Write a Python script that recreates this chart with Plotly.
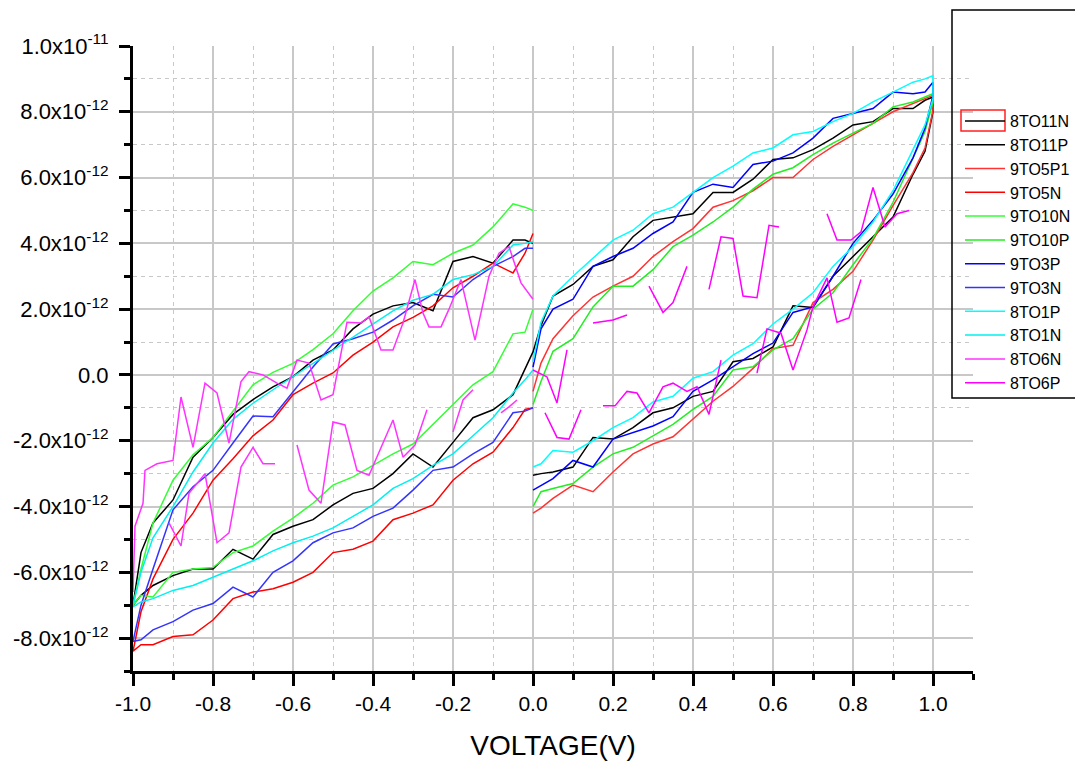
import plotly.graph_objects as go

# ---------------- data (current in units of 1e-12 A) ----------------
V_NEG = [-1.0, -0.98, -0.95, -0.90, -0.85, -0.80, -0.75, -0.70, -0.65, -0.60, -0.55, -0.50,
         -0.45, -0.40, -0.35, -0.30, -0.25, -0.20, -0.15, -0.10, -0.05, -0.02, 0.0]
V_POS = [0.0, 0.02, 0.05, 0.10, 0.15, 0.20, 0.25, 0.30, 0.35, 0.40, 0.45, 0.50,
         0.55, 0.60, 0.65, 0.70, 0.75, 0.80, 0.85, 0.90, 0.95, 0.98, 1.0]

# 8TO11 (black)
N8_11_LOW = [-7.0, -6.7, -6.4, -6.1, -5.9, -5.9, -5.3, -5.6, -4.85, -4.6, -4.4, -3.95, -3.6, -3.45, -3.0, -2.4, -2.8, -2.05, -1.3, -1.06, -0.6, 0.2, 0.7]
N8_11_UP = [-7.0, -5.4, -4.5, -3.8, -2.5, -1.9, -1.2, -0.75, -0.36, -0.05, 0.45, 0.76, 1.4, 1.85, 2.1, 2.2, 1.95, 3.45, 3.6, 3.4, 4.1, 4.1, 4.0]
P8_11_LOW = [-3.05, -3.0, -2.95, -2.8, -1.9, -1.95, -1.6, -1.15, -1.0, -0.65, -0.5, 0.4, 0.5, 0.85, 2.1, 2.05, 3.0, 3.6, 4.2, 4.8, 6.1, 6.8, 8.0]
P8_11_UP = [0.7, 1.5, 2.4, 2.75, 3.3, 3.5, 4.2, 4.7, 4.8, 4.9, 5.55, 5.55, 5.95, 6.55, 6.6, 6.85, 7.2, 7.6, 7.7, 8.1, 8.1, 8.35, 8.45]

# 9TO5 (red)
P9_5_LOW = [-4.2, -4.05, -3.75, -3.35, -3.55, -2.95, -2.4, -2.1, -1.88, -1.35, -0.8, -0.35, 0.2, 0.8, 0.9, 2.2, 2.6, 3.15, 4.1, 5.15, 6.15, 6.9, 8.05]
P9_5_UP = [-0.5, 0.36, 1.1, 1.8, 2.37, 2.7, 3.0, 3.6, 4.05, 4.45, 5.1, 5.3, 5.6, 6.0, 6.0, 6.55, 6.95, 7.3, 7.65, 8.0, 8.25, 8.4, 8.5]
N9_5_LOW = [-8.4, -8.2, -8.2, -7.95, -7.9, -7.45, -6.8, -6.6, -6.5, -6.3, -6.0, -5.4, -5.3, -5.05, -4.4, -4.2, -3.95, -3.2, -2.7, -2.35, -1.6, -1.05, -1.0]
N9_5_UP = [-8.4, -7.2, -6.2, -5.0, -4.2, -3.2, -2.55, -1.85, -1.37, -0.6, -0.25, 0.06, 0.6, 1.0, 1.46, 1.75, 2.1, 2.65, 3.0, 3.4, 3.1, 3.7, 4.3]

# 9TO10 (green)
N9_10_LOW = [-7.0, -6.7, -6.75, -6.0, -5.9, -5.85, -5.4, -5.2, -4.75, -4.35, -3.9, -3.35, -3.1, -2.75, -2.4, -2.1, -1.5, -0.9, -0.3, 0.1, 1.25, 1.3, 2.0]
N9_10_UP = [-7.0, -5.9, -4.5, -3.2, -2.43, -1.9, -1.1, -0.3, 0.08, 0.35, 0.77, 1.25, 1.95, 2.55, 2.95, 3.45, 3.35, 3.7, 3.95, 4.5, 5.2, 5.1, 5.0]
P9_10_LOW = [-4.0, -3.55, -3.45, -3.3, -2.8, -2.4, -2.2, -1.85, -1.5, -1.05, -0.65, 0.15, 0.25, 0.76, 1.1, 2.0, 2.5, 3.35, 4.15, 5.25, 6.6, 7.4, 8.3]
P9_10_UP = [-0.9, -0.2, 0.72, 1.1, 2.07, 2.7, 2.7, 3.2, 3.9, 4.25, 4.65, 5.1, 5.65, 6.1, 6.3, 6.7, 7.05, 7.35, 7.65, 8.15, 8.3, 8.45, 8.55]

# 9TO3 (blue)
P9_3_LOW = [-3.5, -3.35, -3.15, -2.6, -2.8, -1.95, -1.75, -1.55, -1.27, -0.5, -0.15, 0.24, 0.65, 0.97, 1.9, 2.07, 3.0, 4.0, 4.7, 5.5, 6.6, 7.5, 8.5]
P9_3_UP = [0.24, 1.4, 2.0, 2.3, 3.3, 3.6, 3.85, 4.3, 4.65, 5.55, 5.8, 5.7, 6.4, 6.5, 6.75, 7.2, 7.8, 7.95, 8.1, 8.6, 8.55, 8.6, 8.9]
N9_3_LOW = [-8.1, -8.05, -7.75, -7.5, -7.15, -6.95, -6.45, -6.75, -6.0, -5.65, -5.1, -4.8, -4.65, -4.3, -4.05, -3.5, -2.9, -2.8, -2.4, -2.05, -1.15, -1.1, -1.0]
N9_3_UP = [-8.1, -7.0, -5.9, -4.1, -3.4, -2.9, -2.07, -1.25, -1.27, -0.5, 0.24, 0.94, 1.1, 1.3, 1.67, 2.1, 2.45, 2.37, 2.9, 3.3, 3.6, 3.85, 3.85]

# 8TO1 (cyan)
P8_1_LOW = [-2.8, -2.7, -2.3, -2.35, -2.0, -1.6, -1.3, -0.82, -0.65, -0.1, 0.1, 0.6, 0.95, 1.55, 2.0, 2.5, 3.3, 3.9, 4.65, 5.6, 6.85, 7.6, 8.4]
P8_1_UP = [0.4, 1.6, 2.4, 3.0, 3.55, 4.1, 4.4, 4.9, 5.1, 5.55, 6.0, 6.35, 6.75, 6.9, 7.3, 7.4, 7.7, 7.95, 8.3, 8.6, 8.9, 9.0, 9.1]
N8_1_LOW = [-7.05, -6.9, -6.8, -6.55, -6.4, -6.15, -5.9, -5.65, -5.35, -5.1, -4.9, -4.65, -4.3, -3.95, -3.45, -3.15, -2.75, -2.4, -1.85, -1.3, -0.55, -0.15, 0.15]
N8_1_UP = [-7.0, -6.0, -4.95, -4.0, -2.95, -2.07, -1.35, -0.86, -0.45, -0.05, 0.35, 0.76, 1.17, 1.57, 1.95, 2.27, 2.45, 2.9, 3.05, 3.3, 3.95, 4.0, 4.05]

# 8TO6 (magenta, broken record -> None marks gaps)
N8_6_X = [-1.0, -0.995, -0.975, -0.97, -0.94, -0.9, -0.88, -0.85, -0.82, -0.79, -0.76, -0.73, -0.71,
          -0.675, -0.64, -0.615, -0.59, -0.56, -0.53, -0.5, -0.465, -0.43, -0.41, -0.38, -0.35,
          -0.325, -0.295, -0.275, -0.26, -0.23, -0.21, -0.18, -0.145, -0.11, -0.085, -0.06, -0.03, 0.0,
          None,
          -0.91, -0.88, -0.86, -0.82, -0.79, -0.76, -0.73, -0.70, -0.675, -0.645,
          None,
          -0.59, -0.56, -0.53, -0.50, -0.47, -0.44, -0.41, -0.38, -0.35, -0.325, -0.295, -0.265,
          None,
          -0.2, -0.175, -0.15,
          None,
          -0.08, -0.06, -0.04]
N8_6_Y = [-6.6, -4.6, -3.9, -2.9, -2.7, -2.6, -0.67, -2.2, -0.25, -0.55, -2.07, -0.2, 0.1,
          0.0, -0.25, -0.4, 0.45, 0.36, -0.76, -0.6, 1.6, 1.58, 1.77, 0.76, 0.76,
          1.58, 2.9, 1.88, 1.46, 1.46, 2.0, 2.9, 1.06, 3.0, 3.7, 3.9, 2.8, 2.3,
          None,
          -4.5, -5.2, -3.6, -3.0, -5.1, -4.8, -2.8, -2.2, -2.7, -2.7,
          None,
          -2.13, -3.5, -3.9, -1.43, -1.52, -2.9, -3.05, -2.2, -1.37, -2.5, -2.13, -1.06,
          None,
          -1.73, -0.76, -0.45,
          None,
          -1.15, -0.97, -0.76]
P8_6_X = [0.0, 0.035, 0.06, 0.085,
          None, 0.03, 0.06, 0.09, 0.12,
          None, 0.15, 0.2, 0.235,
          None, 0.175, 0.205, 0.235, 0.26, 0.29, 0.325, 0.35, 0.385, 0.41, 0.44, 0.47,
          None, 0.29, 0.325, 0.35, 0.385,
          None, 0.44, 0.47, 0.5, 0.525, 0.56, 0.59, 0.615,
          None, 0.56, 0.585, 0.62, 0.65, 0.685, 0.7, 0.735, 0.76, 0.79, 0.82,
          None, 0.735, 0.76, 0.795, 0.82, 0.85, 0.88, 0.91, 0.94]
P8_6_Y = [0.15, -0.06, -0.85, 0.76,
          None, -1.15, -1.9, -1.95, -1.06,
          None, 1.58, 1.67, 1.82,
          None, -0.94, -0.94, -0.5, -0.55, -1.15, -0.36, -0.25, -0.5, -0.36, -1.2, 0.45,
          None, 2.7, 1.9, 2.2, 3.3,
          None, 2.6, 4.2, 4.15, 2.4, 2.35, 4.55, 4.5,
          None, 0.06, 1.4, 1.27, 0.15, 1.37, 2.07, 2.95, 1.6, 1.73, 2.9,
          None, 4.9, 4.1, 4.1, 4.35, 5.7, 4.5, 4.9, 5.0]

X_TICKS = [-1.0, -0.8, -0.6, -0.4, -0.2, 0.0, 0.2, 0.4, 0.6, 0.8, 1.0]
X_TICK_LABELS = ["-1.0", "-0.8", "-0.6", "-0.4", "-0.2", "0.0", "0.2", "0.4", "0.6", "0.8", "1.0"]
X_MINOR = [-0.9, -0.7, -0.5, -0.3, -0.1, 0.1, 0.3, 0.5, 0.7, 0.9, 1.1]
Y_TICKS = [-8, -6, -4, -2, 0, 2, 4, 6, 8, 10]
Y_TICK_LABELS = ["-8.0x10<sup>-12</sup>", "-6.0x10<sup>-12</sup>", "-4.0x10<sup>-12</sup>",
                 "-2.0x10<sup>-12</sup>", "0.0", "2.0x10<sup>-12</sup>", "4.0x10<sup>-12</sup>",
                 "6.0x10<sup>-12</sup>", "8.0x10<sup>-12</sup>", "1.0x10<sup>-11</sup>"]
Y_MINOR = [-9, -7, -5, -3, -1, 1, 3, 5, 7, 9]

SCALE = 1e-12


def neg_loop(low, up):
    return V_NEG[::-1] + V_NEG, low[::-1] + up


def pos_loop(low, up):
    return V_POS + V_POS[::-1], low + up[::-1]


series = [
    ("8TO11N", "#000000", *neg_loop(N8_11_LOW, N8_11_UP)),
    ("8TO11P", "#000000", *pos_loop(P8_11_LOW, P8_11_UP)),
    ("9TO5P1", "#ff3333", *pos_loop(P9_5_LOW, P9_5_UP)),
    ("9TO5N", "#ff0000", *neg_loop(N9_5_LOW, N9_5_UP)),
    ("9TO10N", "#33ff33", *neg_loop(N9_10_LOW, N9_10_UP)),
    ("9TO10P", "#22ee22", *pos_loop(P9_10_LOW, P9_10_UP)),
    ("9TO3P", "#0000ff", *pos_loop(P9_3_LOW, P9_3_UP)),
    ("9TO3N", "#3333ff", *neg_loop(N9_3_LOW, N9_3_UP)),
    ("8TO1P", "#00ffff", *pos_loop(P8_1_LOW, P8_1_UP)),
    ("8TO1N", "#00f0f0", *neg_loop(N8_1_LOW, N8_1_UP)),
    ("8TO6N", "#ff33ff", N8_6_X, N8_6_Y),
    ("8TO6P", "#ff00ff", P8_6_X, P8_6_Y),
]

FONT = "Liberation Sans, Arial, sans-serif"

fig = go.Figure()
for name, color, xs, ys in series:
    fig.add_trace(go.Scatter(
        x=xs,
        y=[None if v is None else v * SCALE for v in ys],
        mode="lines", name=name, connectgaps=False,
        line=dict(color=color, width=1.5),
    ))

# page body has an 8px margin: figure origin sits at screen (8, 8)
OFF = 8
W, H = 1075, 757
ML, MT = 133 - OFF, 46 - OFF
PW, PH = 840, 625
MR, MB = W - ML - PW, H - MT - PH


def px_x(p):
    return (p - OFF - ML) / PW


def px_y(p):
    return (MT + PH - (p - OFF)) / PH


grid_c = "#c8c8c8"
fig.update_layout(
    width=W, height=H,
    margin=dict(l=ML, r=MR, t=MT, b=MB, autoexpand=False),
    paper_bgcolor="white", plot_bgcolor="white",
    font=dict(family=FONT, color="black"),
    showlegend=True,
    legend=dict(
        x=px_x(960), y=px_y(104), xanchor="left", yanchor="top",
        bgcolor="rgba(0,0,0,0)", borderwidth=0,
        font=dict(family=FONT, size=16, color="black"),
        itemwidth=40, tracegroupgap=0,
    ),
    xaxis=dict(
        range=[-1.0, 1.1], automargin=False,
        tickmode="array", tickvals=X_TICKS, ticktext=X_TICK_LABELS,
        ticks="outside", ticklen=12, tickwidth=3, tickcolor="black",
        showline=True, linecolor="black", linewidth=3, mirror=False,
        showgrid=True, gridcolor=grid_c, gridwidth=1.5, zeroline=False,
        minor=dict(tickvals=X_MINOR,
                   ticks="outside", ticklen=6, tickwidth=3, tickcolor="black",
                   showgrid=True, gridcolor=grid_c, gridwidth=1.2, griddash="4px,4px"),
        tickfont=dict(family=FONT, size=21, color="black"),
        title=dict(text="VOLTAGE(V)", font=dict(family=FONT, size=28, color="black"), standoff=22),
    ),
    yaxis=dict(
        range=[-9 * SCALE, 10 * SCALE], automargin=False,
        tickmode="array", tickvals=[v * SCALE for v in Y_TICKS], ticktext=Y_TICK_LABELS,
        ticks="outside", ticklen=11, tickwidth=3, tickcolor="black",
        showline=True, linecolor="black", linewidth=3, mirror=False,
        showgrid=True, gridcolor=grid_c, gridwidth=1.5, zeroline=False,
        minor=dict(tickvals=[v * SCALE for v in Y_MINOR],
                   ticks="outside", ticklen=6, tickwidth=3, tickcolor="black",
                   showgrid=True, gridcolor=grid_c, gridwidth=1.2, griddash="4px,4px"),
        tickfont=dict(family=FONT, size=22, color="black"),
        ticklabelstandoff=6,
    ),
    shapes=[
        dict(type="rect", xref="paper", yref="paper",
             x0=px_x(952), x1=px_x(1095), y0=px_y(398), y1=px_y(10),
             line=dict(color="black", width=1.5), fillcolor="rgba(0,0,0,0)", layer="above"),
        dict(type="rect", xref="paper", yref="paper",
             x0=px_x(961), x1=px_x(1005), y0=px_y(131), y1=px_y(110),
             line=dict(color="#ff2020", width=1.5), fillcolor="rgba(0,0,0,0)", layer="above"),
    ],
)

fig.write_html("out.html")
